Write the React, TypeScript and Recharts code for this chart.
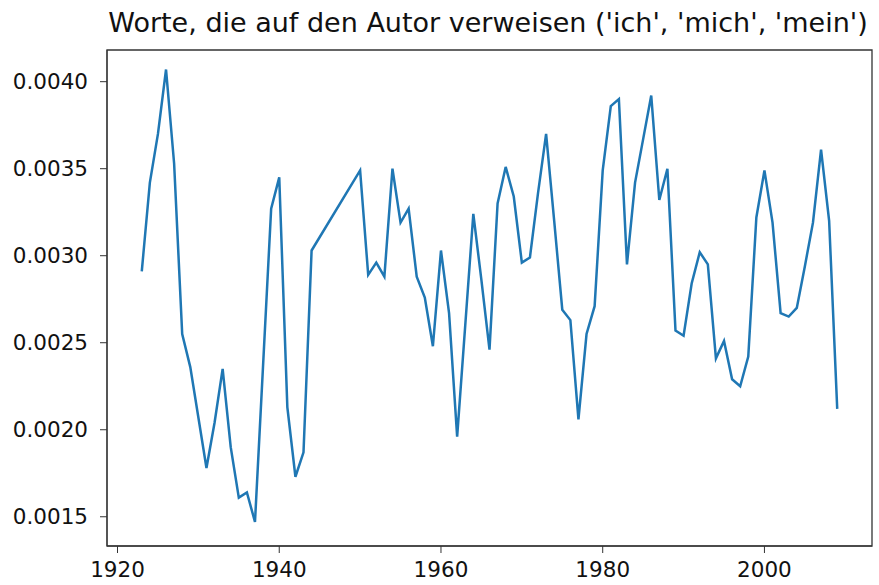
import { LineChart, Line, XAxis, YAxis, ReferenceArea } from "recharts";

const years = [
  1923, 1924, 1925, 1926, 1927, 1928, 1929, 1930, 1931, 1932, 1933, 1934,
  1935, 1936, 1937, 1938, 1939, 1940, 1941, 1942, 1943, 1944, 1950, 1951,
  1952, 1953, 1954, 1955, 1956, 1957, 1958, 1959, 1960, 1961, 1962, 1963,
  1964, 1965, 1966, 1967, 1968, 1969, 1970, 1971, 1972, 1973, 1974, 1975,
  1976, 1977, 1978, 1979, 1980, 1981, 1982, 1983, 1984, 1985, 1986, 1987,
  1988, 1989, 1990, 1991, 1992, 1993, 1994, 1995, 1996, 1997, 1998, 1999,
  2000, 2001, 2002, 2003, 2004, 2005, 2006, 2007, 2008, 2009,
];

const shares = [
  0.00291, 0.00342, 0.0037, 0.00407, 0.00353, 0.00255, 0.00236, 0.00207,
  0.00178, 0.00204, 0.00235, 0.0019, 0.00161, 0.00164, 0.00147, 0.00237,
  0.00327, 0.00345, 0.00213, 0.00173, 0.00187, 0.00303, 0.00349, 0.00289,
  0.00296, 0.00288, 0.0035, 0.00319, 0.00327, 0.00288, 0.00276, 0.00248,
  0.00303, 0.00267, 0.00196, 0.0026, 0.00324, 0.00286, 0.00246, 0.0033,
  0.00351, 0.00334, 0.00296, 0.00299, 0.00336, 0.0037, 0.0032, 0.00269,
  0.00263, 0.00206, 0.00255, 0.00271, 0.00349, 0.00386, 0.0039, 0.00295,
  0.00342, 0.00367, 0.00392, 0.00332, 0.0035, 0.00257, 0.00254, 0.00284,
  0.00302, 0.00295, 0.00241, 0.00251, 0.00229, 0.00225, 0.00242, 0.00322,
  0.00349, 0.00319, 0.00267, 0.00265, 0.0027, 0.00294, 0.00319, 0.00361,
  0.0032, 0.00212,
];

const xTicks = [1920, 1940, 1960, 1980, 2000];
const yTicks = [0.0015, 0.002, 0.0025, 0.003, 0.0035, 0.004];
const xDomain: [number, number] = [1918.7, 2013.3];
const yDomain: [number, number] = [0.001332, 0.004182];

const data = years.map((year, i) => ({ year, value: shares[i] }));

const font = "'DejaVu Sans', sans-serif";

export default function App() {
  return (
    <div style={{ position: "absolute", left: 0, top: 0, width: 879, height: 585, background: "#fff" }}>
      <div
        style={{
          position: "absolute",
          left: 0,
          width: 976,
          top: 9,
          lineHeight: "27px",
          textAlign: "center",
          fontFamily: font,
          fontSize: 27,
          color: "#111",
          whiteSpace: "nowrap",
        }}
      >
        Worte, die auf den Autor verweisen ('ich', 'mich', 'mein')
      </div>
      <LineChart
        width={879}
        height={585}
        data={data}
        margin={{ top: 50, right: 7, bottom: 0, left: 0 }}
      >
        <XAxis
          dataKey="year"
          type="number"
          domain={xDomain}
          ticks={xTicks}
          allowDataOverflow
          height={39}
          stroke="#333"
          tickSize={7}
          tickMargin={9}
          tick={{ fill: "#111", fontSize: 21.5, fontFamily: font }}
        />
        <YAxis
          type="number"
          domain={yDomain}
          ticks={yTicks}
          allowDataOverflow
          width={107}
          stroke="#333"
          tickSize={7}
          tickMargin={12}
          tickFormatter={(v: number) => v.toFixed(4)}
          tick={{ fill: "#111", fontSize: 21.5, fontFamily: font }}
        />
        <ReferenceArea
          x1={xDomain[0]}
          x2={xDomain[1]}
          y1={yDomain[0]}
          y2={yDomain[1]}
          fill="none"
          fillOpacity={0}
          stroke="#333"
          strokeWidth={1.3}
          strokeOpacity={1}
        />
        <Line
          dataKey="value"
          stroke="#1f77b4"
          strokeWidth={2.5}
          dot={false}
          isAnimationActive={false}
        />
      </LineChart>
    </div>
  );
}
